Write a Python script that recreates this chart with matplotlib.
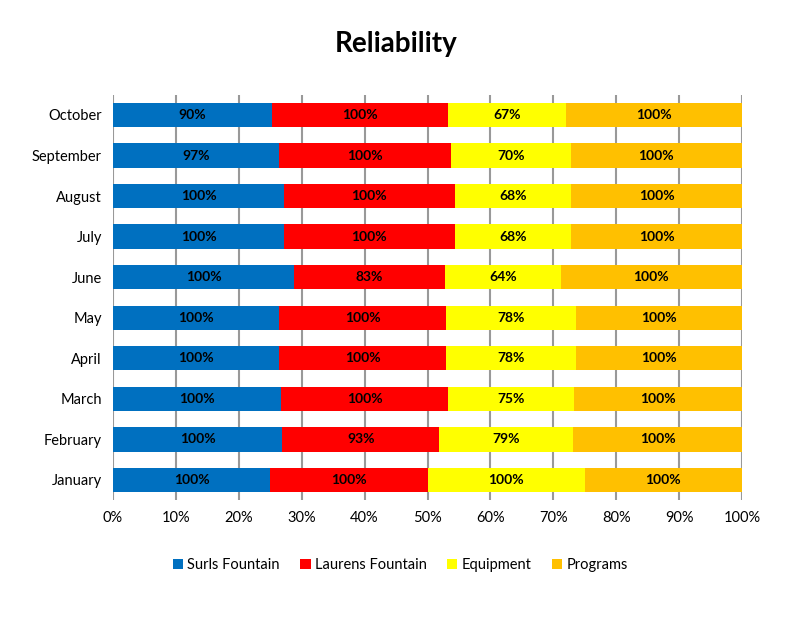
import matplotlib.pyplot as plt
import numpy as np

plt.rcParams['font.family'] = ['Lato', 'DejaVu Sans']

months = ['January', 'February', 'March', 'April', 'May', 'June',
          'July', 'August', 'September', 'October']
surls = [100, 100, 100, 100, 100, 100, 100, 100, 97, 90]
laurens = [100, 93, 100, 100, 100, 83, 100, 100, 100, 100]
equipment = [100, 79, 75, 78, 78, 64, 68, 68, 70, 67]
programs = [100, 100, 100, 100, 100, 100, 100, 100, 100, 100]

names = ['Surls Fountain', 'Laurens Fountain', 'Equipment', 'Programs']
colors = ['#0070C0', '#FF0000', '#FFFF00', '#FFC000']

series = np.array([surls, laurens, equipment, programs], dtype=float)
share = series / series.sum(axis=0)

fig = plt.figure(figsize=(7.93, 6.23), dpi=100)
ax = fig.add_axes([0.1425, 0.197, 0.7932, 0.651])

y = np.arange(len(months))
left = np.zeros(len(months))
for i in range(4):
    ax.barh(y, share[i], left=left, height=0.6, color=colors[i],
            label=names[i], zorder=2)
    for j in range(len(months)):
        ax.text(left[j] + share[i][j] / 2, y[j], '%d%%' % series[i][j],
                ha='center', va='center', fontsize=10, fontweight='bold',
                zorder=3)
    left += share[i]

ax.set_xlim(0, 1)
ax.set_ylim(-0.5, len(months) - 0.5)
ax.set_xticks(np.linspace(0, 1, 11))
ax.set_xticklabels(['%d%%' % v for v in range(0, 101, 10)], fontsize=10.5)
ax.set_yticks(y)
ax.set_yticklabels(months, fontsize=10.5)
ax.tick_params(length=0, pad=8)
ax.xaxis.grid(True, color='#999999', linewidth=1.5, zorder=0)
ax.set_axisbelow(True)
for s in ax.spines.values():
    s.set_visible(False)

fig.text(0.5, 0.93, 'Reliability', ha='center', va='center',
         fontsize=20, fontweight='bold')
fig.legend(loc='center', bbox_to_anchor=(0.505, 0.093), ncol=4, frameon=False,
           fontsize=10.5, handlelength=0.7, handleheight=0.7,
           handletextpad=0.3, columnspacing=1.4)

fig.savefig('out.png', dpi=100)
